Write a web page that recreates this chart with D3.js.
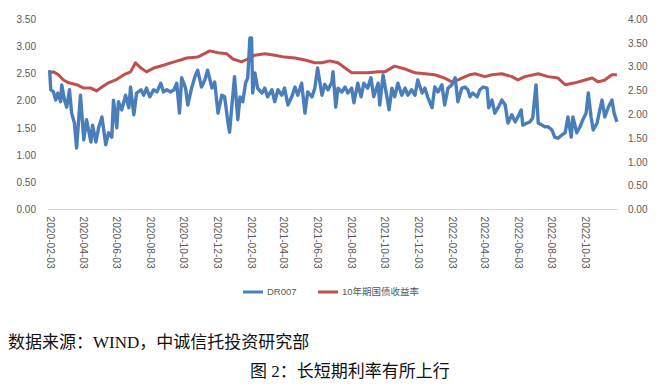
<!DOCTYPE html>
<html><head><meta charset="utf-8">
<script src="https://cdn.jsdelivr.net/npm/d3@7"></script>
<style>
html,body{margin:0;padding:0;background:#fff;}
svg{display:block;}
</style></head>
<body>
<svg id="c" width="664" height="389"></svg>
<script>
const leftTicks = [0,0.5,1,1.5,2,2.5,3,3.5];
const rightTicks = [0,0.5,1,1.5,2,2.5,3,3.5,4];
const xTickLabels = ["2020-02-03","2020-04-03","2020-06-03","2020-08-03","2020-10-03","2020-12-03","2021-02-03","2021-04-03","2021-06-03","2021-08-03","2021-10-03","2021-12-03","2022-02-03","2022-04-03","2022-06-03","2022-08-03","2022-10-03"];
const seriesNames = ["DR007","10年期国债收益率"];

const drDates = ["2020-02-03","2020-02-05","2020-02-10","2020-02-14","2020-02-18","2020-02-23","2020-02-25","2020-03-01","2020-03-05","2020-03-10","2020-03-14","2020-03-19","2020-03-23","2020-03-30","2020-04-05","2020-04-10","2020-04-18","2020-04-21","2020-04-27","2020-05-02","2020-05-08","2020-05-15","2020-05-20","2020-05-26","2020-05-29","2020-06-04","2020-06-07","2020-06-13","2020-06-20","2020-06-26","2020-06-29","2020-07-05","2020-07-10","2020-07-18","2020-07-23","2020-07-28","2020-08-03","2020-08-10","2020-08-16","2020-08-23","2020-08-28","2020-09-03","2020-09-10","2020-09-16","2020-09-21","2020-09-26","2020-09-30","2020-10-07","2020-10-11","2020-10-18","2020-10-24","2020-10-29","2020-11-05","2020-11-11","2020-11-16","2020-11-24","2020-11-29","2020-12-05","2020-12-12","2020-12-17","2020-12-23","2020-12-26","2020-12-30","2021-01-04","2021-01-10","2021-01-14","2021-01-19","2021-01-24","2021-01-28","2021-02-01","2021-02-04","2021-02-06","2021-02-10","2021-02-15","2021-02-23","2021-02-28","2021-03-05","2021-03-13","2021-03-18","2021-03-24","2021-03-31","2021-04-05","2021-04-11","2021-04-18","2021-04-24","2021-04-29","2021-05-06","2021-05-12","2021-05-17","2021-05-25","2021-05-30","2021-06-04","2021-06-12","2021-06-17","2021-06-23","2021-06-30","2021-07-02","2021-07-07","2021-07-11","2021-07-18","2021-07-24","2021-07-29","2021-08-05","2021-08-09","2021-08-16","2021-08-22","2021-08-27","2021-09-03","2021-09-09","2021-09-14","2021-09-22","2021-09-25","2021-10-01","2021-10-08","2021-10-12","2021-10-17","2021-10-22","2021-10-28","2021-11-04","2021-11-10","2021-11-15","2021-11-22","2021-11-28","2021-12-03","2021-12-11","2021-12-16","2021-12-21","2021-12-29","2022-01-03","2022-01-09","2022-01-16","2022-01-21","2022-01-27","2022-02-03","2022-02-09","2022-02-14","2022-02-21","2022-02-27","2022-03-04","2022-03-08","2022-03-13","2022-03-21","2022-03-26","2022-04-01","2022-04-08","2022-04-11","2022-04-17","2022-04-22","2022-04-28","2022-05-05","2022-05-11","2022-05-16","2022-05-23","2022-05-29","2022-06-03","2022-06-09","2022-06-12","2022-06-20","2022-06-25","2022-06-30","2022-07-06","2022-07-10","2022-07-17","2022-07-22","2022-07-28","2022-08-04","2022-08-09","2022-08-15","2022-08-22","2022-08-28","2022-09-02","2022-09-08","2022-09-11","2022-09-18","2022-09-24","2022-09-29","2022-10-05","2022-10-09","2022-10-14","2022-10-18","2022-10-25","2022-10-30","2022-11-03","2022-11-08","2022-11-14","2022-11-21","2022-11-25","2022-11-30"];
const drValues = [2.56,2.2,2.16,2.01,2.14,1.98,2.29,2.01,1.88,2.2,1.77,1.59,1.13,2.1,1.28,1.65,1.24,1.55,1.24,1.5,1.7,1.19,1.41,1.33,2.01,1.5,1.98,1.83,2.1,1.87,2.25,1.74,2.14,2.2,2.1,2.23,2.07,2.2,2.16,2.32,2.16,2.2,2.16,2.2,2.32,1.77,2.42,2.23,1.92,2.23,2.44,2.56,2.25,2.38,2.56,2.23,2.34,1.77,2.1,2.07,1.61,1.42,1.88,2.44,1.65,2.07,1.98,2.32,2.42,3.15,3.15,2.14,2.51,2.23,2.14,2.23,2.07,2.2,1.98,2.2,2.1,2.23,1.92,2.07,2.25,2.1,2.32,1.77,2.16,2.07,2.23,2.6,2.1,2.3,2.2,2.34,2.53,1.88,2.23,2.16,2.25,2.14,2.23,1.96,2.32,2.07,2.32,2.23,2.42,2.07,2.32,1.92,2.47,2.07,1.83,2.23,2.07,2.32,2.1,2.23,2.1,2.2,2.1,2.38,2.14,2.23,2.07,1.87,2.25,2.16,2.29,1.92,2.23,2.29,2.42,1.98,2.23,2.25,2.2,2.07,2.14,2.07,2.2,2.25,2.23,1.87,2.01,1.77,1.87,2.01,1.92,1.59,1.74,1.61,1.7,1.83,1.55,1.59,1.61,1.68,2.29,1.59,1.55,1.52,1.52,1.46,1.33,1.31,1.37,1.41,1.7,1.33,1.7,1.41,1.52,1.65,1.77,2.14,1.7,1.46,1.59,1.83,2.01,1.7,1.87,2.01,1.77,1.61];

const cgbDates = ["2020-02-03","2020-02-10","2020-02-19","2020-02-28","2020-03-09","2020-03-23","2020-04-05","2020-04-18","2020-04-28","2020-05-08","2020-05-20","2020-06-02","2020-06-17","2020-06-29","2020-07-08","2020-07-18","2020-07-28","2020-08-10","2020-08-28","2020-09-16","2020-09-28","2020-10-09","2020-10-29","2020-11-20","2020-12-05","2020-12-21","2021-01-01","2021-01-17","2021-01-28","2021-02-10","2021-02-28","2021-03-18","2021-04-05","2021-04-24","2021-05-12","2021-05-30","2021-06-12","2021-06-26","2021-07-11","2021-07-24","2021-08-05","2021-08-16","2021-09-03","2021-09-22","2021-10-04","2021-10-22","2021-11-10","2021-11-28","2021-12-16","2022-01-03","2022-01-21","2022-02-03","2022-02-14","2022-03-08","2022-03-17","2022-04-04","2022-04-17","2022-05-05","2022-05-23","2022-06-03","2022-06-16","2022-07-10","2022-07-28","2022-08-15","2022-08-28","2022-09-15","2022-10-03","2022-10-16","2022-10-27","2022-11-08","2022-11-21","2022-11-30"];
const cgbValues = [2.87,2.89,2.83,2.72,2.66,2.62,2.55,2.55,2.49,2.57,2.66,2.72,2.83,2.89,3.08,2.97,2.89,2.97,3.03,3.10,3.14,3.18,3.20,3.33,3.29,3.27,3.16,3.10,3.16,3.24,3.27,3.24,3.20,3.18,3.14,3.08,3.08,3.12,3.08,2.97,2.87,2.87,2.87,2.89,2.89,3.01,2.95,2.87,2.85,2.83,2.76,2.68,2.72,2.83,2.85,2.79,2.83,2.85,2.79,2.72,2.79,2.85,2.79,2.76,2.62,2.66,2.72,2.76,2.68,2.72,2.83,2.83];

const parse = d3.timeParse("%Y-%m-%d");
const svg = d3.select("#c");
const font = "'Liberation Sans', Arial, sans-serif";
const grey = "#595959";

const x = d3.scaleTime().domain([parse("2020-01-31"), parse("2022-12-02")]).range([48, 618]);
const yL = d3.scaleLinear().domain([0, 3.5]).range([209.5, 19]);
const yR = d3.scaleLinear().domain([0, 4]).range([209.5, 19]);

// x axis line
svg.append("line").attr("x1", 48).attr("x2", 618).attr("y1", yL(0)).attr("y2", yL(0))
  .attr("stroke", "#d9d9d9").attr("stroke-width", 1);

// left axis
const gl = svg.append("g").attr("transform", "translate(36,0)")
  .call(d3.axisLeft(yL).tickValues(leftTicks).tickFormat(d3.format(".2f")).tickSize(0).tickPadding(0));
gl.select(".domain").remove();
gl.selectAll("text").attr("font-family", font).attr("font-size", 10).attr("fill", grey);

// right axis
const gr = svg.append("g").attr("transform", "translate(628,0)")
  .call(d3.axisRight(yR).tickValues(rightTicks).tickFormat(d3.format(".2f")).tickSize(0).tickPadding(0));
gr.select(".domain").remove();
gr.selectAll("text").attr("font-family", font).attr("font-size", 10).attr("fill", grey);

// x labels
const gx = svg.append("g").attr("transform", `translate(0,${yL(0)})`)
  .call(d3.axisBottom(x).tickValues(xTickLabels.map(parse)).tickFormat(d3.timeFormat("%Y-%m-%d")).tickSize(0).tickPadding(0));
gx.select(".domain").remove();
gx.selectAll("text").attr("font-family", font).attr("font-size", 10.2).attr("fill", grey)
  .attr("text-anchor", "start").attr("transform", "translate(0,7) rotate(90)")
  .attr("x", 0).attr("y", 0).attr("dy", "0.35em");

// lines
const drData = drDates.map((d, i) => ({ d: parse(d), v: drValues[i] }));
const cgbData = cgbDates.map((d, i) => ({ d: parse(d), v: cgbValues[i] }));

svg.append("path").datum(cgbData)
  .attr("d", d3.line().x(p => x(p.d)).y(p => yR(p.v)))
  .attr("fill", "none").attr("stroke", "#c0504d").attr("stroke-width", 3).attr("stroke-linejoin", "round");
svg.append("path").datum(drData)
  .attr("d", d3.line().x(p => x(p.d)).y(p => yL(p.v)))
  .attr("fill", "none").attr("stroke", "#4a7ebb").attr("stroke-width", 3.4).attr("stroke-linejoin", "round");

// legend
const legend = [
  { name: seriesNames[0], color: "#4a7ebb", x: 243 },
  { name: seriesNames[1], color: "#c0504d", x: 318 }
];
legend.forEach(l => {
  svg.append("line").attr("x1", l.x).attr("x2", l.x + 20).attr("y1", 292).attr("y2", 292)
    .attr("stroke", l.color).attr("stroke-width", 3);
  svg.append("text").attr("x", l.x + 24).attr("y", 292).attr("dy", "0.35em")
    .attr("font-family", font + ", 'Noto Sans CJK SC'").attr("font-size", 9.5).attr("fill", grey).text(l.name);
});

// source and caption
const cjk = "'Liberation Serif', 'Noto Sans CJK SC', serif";
svg.append("text").attr("x", 8).attr("y", 348).attr("font-family", cjk).attr("font-size", 17).attr("fill", "#111")
  .text("数据来源：WIND，中诚信托投资研究部");
svg.append("text").attr("x", 250).attr("y", 377).attr("font-family", cjk).attr("font-size", 17).attr("fill", "#111")
  .text("图 2：长短期利率有所上行");
</script>
</body></html>
